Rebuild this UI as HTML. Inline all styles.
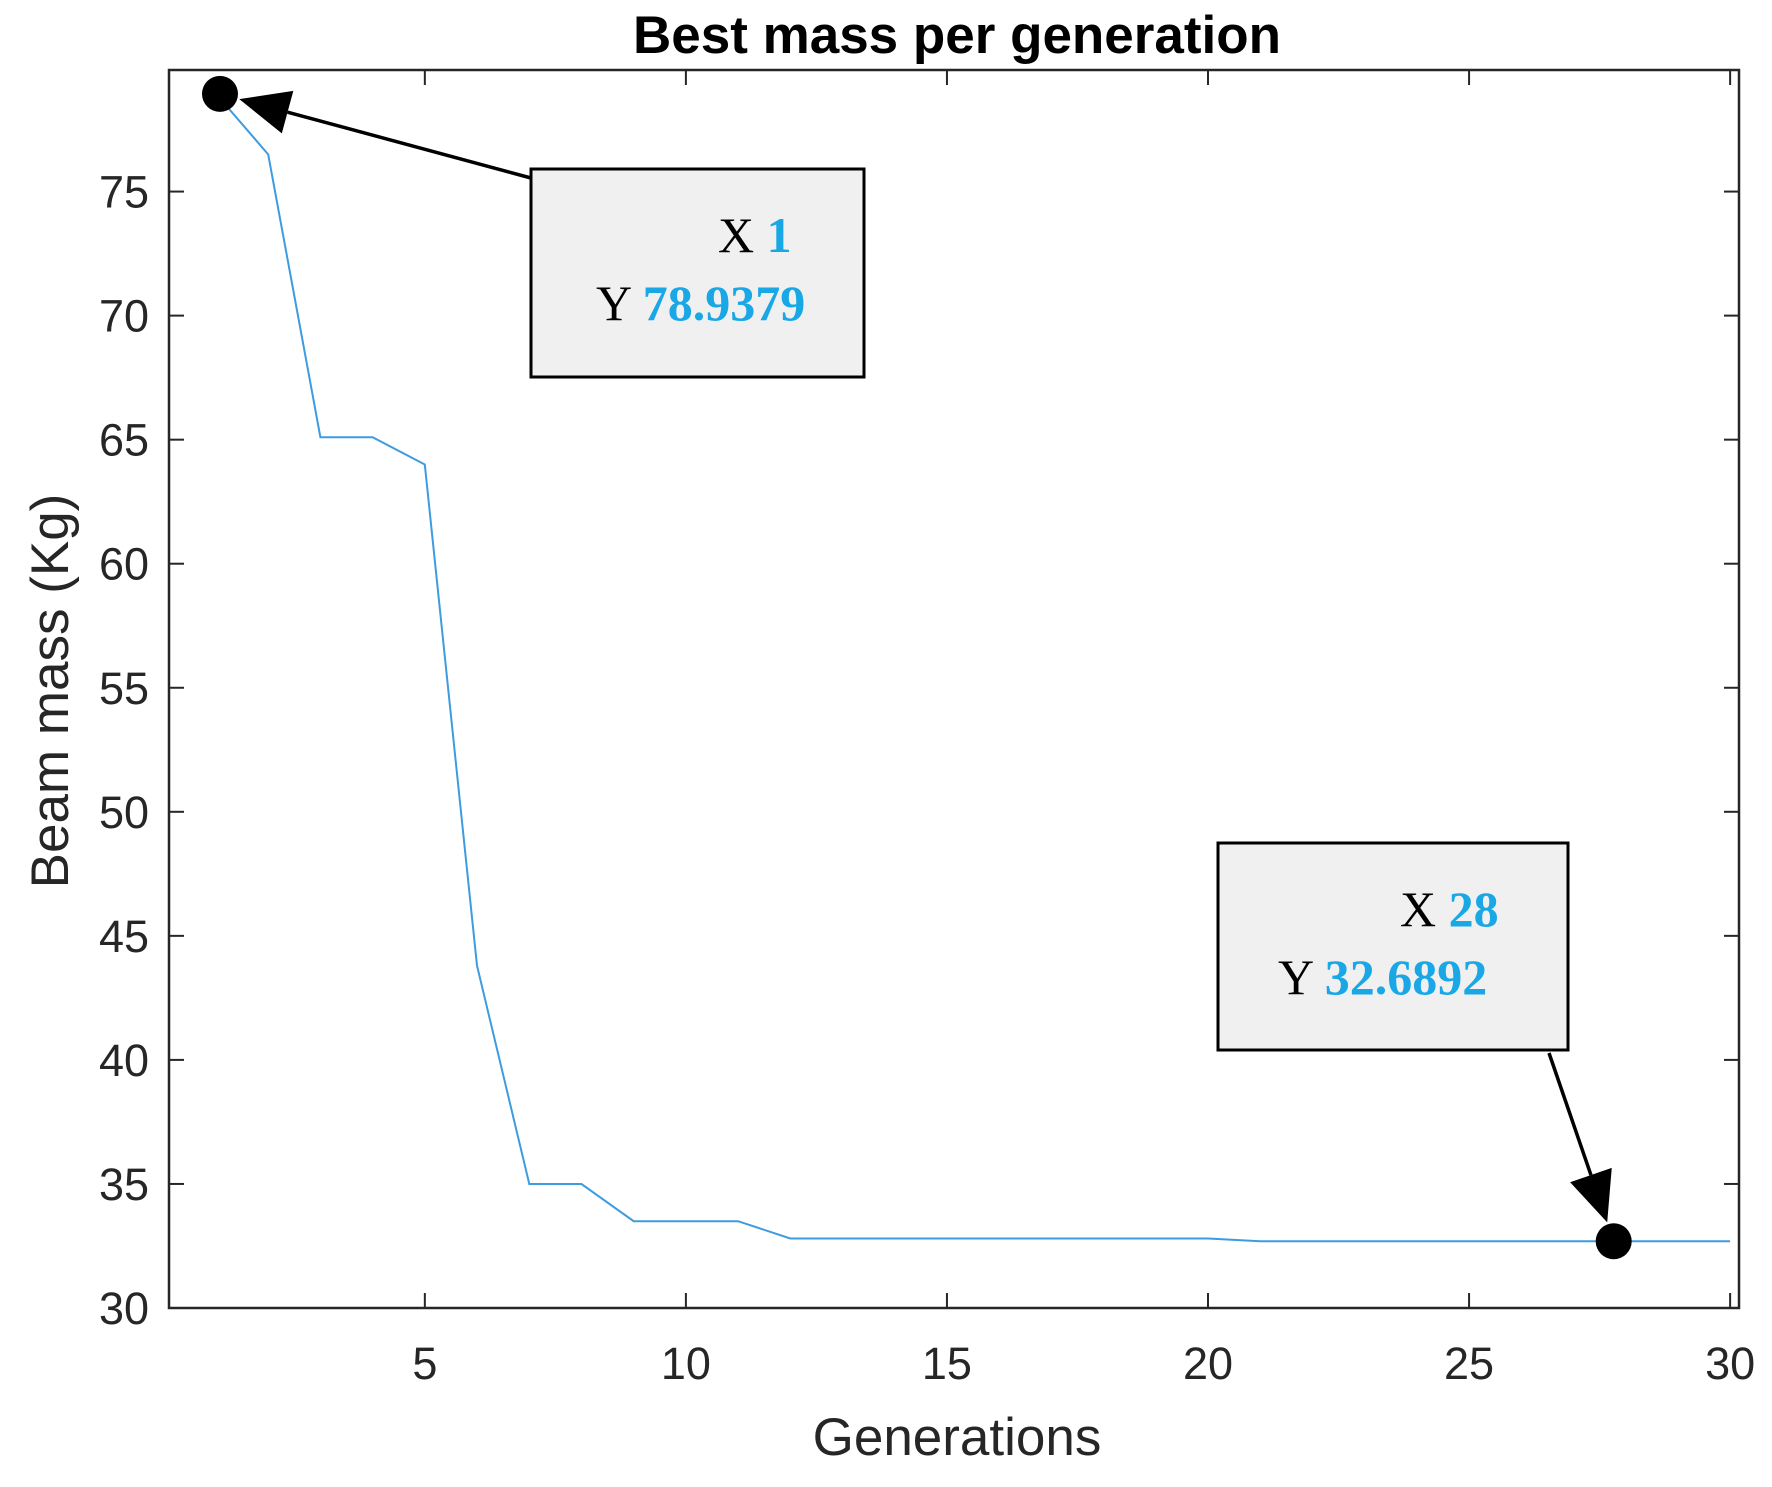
<!DOCTYPE html>
<html><head><meta charset="utf-8"><style>
html,body{margin:0;padding:0;background:#fff;}
svg{display:block;}
</style></head><body>
<svg id="chart" width="1772" height="1487" viewBox="0 0 1772 1487" xmlns="http://www.w3.org/2000/svg">
<rect width="1772" height="1487" fill="#fff"/>
<text x="957" y="53" text-anchor="middle" font-family="Liberation Sans, sans-serif" font-weight="bold" font-size="53" fill="#000">Best mass per generation</text>
<g id="axes"></g>
<path id="series" fill="none" stroke="#3d9be0" stroke-width="2"/>
<text x="957" y="1455" text-anchor="middle" font-family="Liberation Sans, sans-serif" font-size="53" fill="#262626">Generations</text>
<text transform="translate(68,691) rotate(-90)" text-anchor="middle" font-family="Liberation Sans, sans-serif" font-size="53" fill="#262626">Beam mass (Kg)</text>
<g id="tips"></g>
</svg>
<script>
const generations=[1,2,3,4,5,6,7,8,9,10,11,12,13,14,15,16,17,18,19,20,21,22,23,24,25,26,27,28,29,30];
const bestMass=[78.94,76.5,65.1,65.1,64.0,43.8,35.0,35.0,33.5,33.5,33.5,32.8,32.8,32.8,32.8,32.8,32.8,32.8,32.8,32.8,32.69,32.69,32.69,32.69,32.69,32.69,32.69,32.69,32.69,32.69];
const xTicks=[5,10,15,20,25,30];
const yTicks=[30,35,40,45,50,55,60,65,70,75];
const tipXs=[1,28];
const tipYs=[78.9379,32.6892];

const L=169,R=1739,T=70,B=1308;
const X0=0.1,X1=30.17,Y0=30,Y1=79.9;
const sx=v=>L+(v-X0)/(X1-X0)*(R-L);
const sy=v=>B-(v-Y0)/(Y1-Y0)*(B-T);
const NS='http://www.w3.org/2000/svg';
function mk(tag,attrs,parent){const e=document.createElementNS(NS,tag);for(const k in attrs)e.setAttribute(k,attrs[k]);parent.appendChild(e);return e;}
const axes=document.getElementById('axes');
const box=mk('rect',{x:L,y:T,width:R-L,height:B-T,fill:'none',stroke:'#262626','stroke-width':2.5},axes);


xTicks.forEach(t=>{
  const x=sx(t);
  mk('line',{x1:x,y1:B,x2:x,y2:B-15,stroke:'#262626','stroke-width':2},axes);
  mk('line',{x1:x,y1:T,x2:x,y2:T+15,stroke:'#262626','stroke-width':2},axes);
  const tx=mk('text',{x:x,y:B+71,'text-anchor':'middle','font-family':'Liberation Sans, sans-serif','font-size':45,fill:'#262626'},axes);
  tx.textContent=t;
  
  
});
yTicks.forEach(t=>{
  const y=sy(t);
  mk('line',{x1:L,y1:y,x2:L+15,y2:y,stroke:'#262626','stroke-width':2},axes);
  mk('line',{x1:R,y1:y,x2:R-15,y2:y,stroke:'#262626','stroke-width':2},axes);
  const tx=mk('text',{x:L-20,y:y+16,'text-anchor':'end','font-family':'Liberation Sans, sans-serif','font-size':45,fill:'#262626'},axes);
  tx.textContent=t;
  
  
});
document.getElementById('series').setAttribute('d',generations.map((g,i)=>(i?'L':'M')+sx(g).toFixed(1)+','+sy(bestMass[i]).toFixed(1)).join(''));

const tips=document.getElementById('tips');
const boxes=[{x:531,y:169,w:333,h:208,from:[531,178],lx:718,ly:252},{x:1218,y:843,w:350,h:207,from:[1549,1053],lx:1400,ly:926}];
tipXs.forEach((xv,i)=>{
  const px=sx(xv)+(i?-12:4),py=sy(tipYs[i]);
  const b=boxes[i];
  const dx=px-b.from[0],dy=py-b.from[1],len=Math.hypot(dx,dy),ux=dx/len,uy=dy/len;
  const tipx=px-ux*20,tipy=py-uy*20;
  const basex=tipx-ux*50,basey=tipy-uy*50;
  const ln=mk('line',{x1:b.from[0],y1:b.from[1],x2:basex,y2:basey,stroke:'#000','stroke-width':3.5},tips);
  
  
  mk('polygon',{points:`${tipx},${tipy} ${basex-uy*22},${basey+ux*22} ${basex+uy*22},${basey-ux*22}`,fill:'#000'},tips);
  const m=mk('circle',{cx:px,cy:py,r:18,fill:'#000'},tips);
  
  
  const r=mk('rect',{x:b.x,y:b.y,width:b.w,height:b.h,fill:'#f0f0f0',stroke:'#000','stroke-width':3},tips);
  
  
  const t1=mk('text',{x:b.lx,y:b.ly,'font-family':'Liberation Serif, serif','font-size':50,fill:'#000'},tips);
  t1.innerHTML='X <tspan fill="#1aa7e6" font-weight="bold">'+xv+'</tspan>';
  
  
  const t2=mk('text',{x:b.lx-122,y:b.ly+68,'font-family':'Liberation Serif, serif','font-size':50,fill:'#000'},tips);
  t2.innerHTML='Y <tspan fill="#1aa7e6" font-weight="bold">'+tipYs[i]+'</tspan>';
  
  
});
</script>
</body></html>
